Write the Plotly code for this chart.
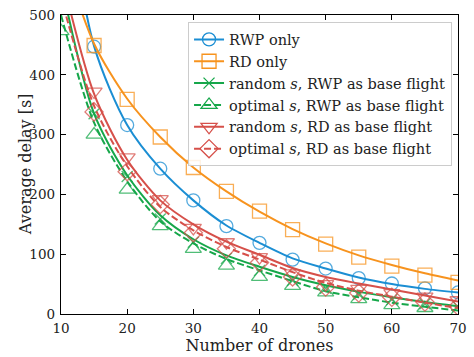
import plotly.graph_objects as go

# Number of drones
drones = [10, 15, 20, 25, 30, 35, 40, 45, 50, 55, 60, 65, 70]

# Analytical curves (average delay in seconds)
rwp_only_curve = [760, 448, 316, 243, 190, 148, 119, 93, 76, 61, 50, 42, 36]
rd_only_curve = [610, 452, 360, 296, 245, 205, 171, 142, 118, 98, 82, 68, 56]
rand_rwp_curve = [555, 335, 232, 165, 125, 98, 79, 62, 48, 37, 28, 20, 13]
opt_rwp_curve = [500, 320, 222, 155, 118, 92, 73, 55, 38, 28, 19, 12, 6]
rand_rd_curve = [570, 368, 258, 190, 150, 121, 99, 77, 62, 51, 41, 31, 21]
opt_rd_curve = [530, 348, 247, 179, 140, 112, 91, 70, 52, 39, 29, 19, 10]

# Simulated values (markers)
rwp_only_sim = [760, 447, 316, 243, 190, 147, 119, 91, 76, 60, 51, 43, 36]
rd_only_sim = [610, 449, 359, 296, 245, 205, 172, 141, 117, 95, 80, 65, 53]
rand_rwp_sim = [555, 335, 230, 159, 120, 93, 73, 56, 43, 33, 24, 17, 12]
opt_rwp_sim = [473, 300, 208, 147, 109, 81, 62, 47, 36, 25, 15, 10, 3]
rand_rd_sim = [600, 372, 262, 192, 144, 120, 95, 68, 50, 42, 35, 29, 23]
opt_rd_sim = [560, 338, 238, 183, 136, 109, 86, 62, 45, 35, 28, 20, 13]

labels = [
    "RWP only",
    "RD only",
    "random <i>s</i>, RWP as base flight",
    "optimal <i>s</i>, RWP as base flight",
    "random <i>s</i>, RD as base flight",
    "optimal <i>s</i>, RD as base flight",
]

BLUE = "#1b8ed3"
ORANGE = "#f7931e"
GREEN = "#16a74a"
RED = "#d6504a"

series = [
    (rwp_only_curve, rwp_only_sim, BLUE, "solid", "circle-open", 13),
    (rd_only_curve, rd_only_sim, ORANGE, "solid", "square-open", 14),
    (rand_rwp_curve, rand_rwp_sim, GREEN, "solid", "x-thin-open", 11),
    (opt_rwp_curve, opt_rwp_sim, GREEN, "7px,3px", "triangle-up-open", 14),
    (rand_rd_curve, rand_rd_sim, RED, "solid", "triangle-down-open", 14),
    (opt_rd_curve, opt_rd_sim, RED, "7px,3px", "diamond-open", 14),
]

fig = go.Figure()
for (curve, sim, color, dash, symbol, size), name in zip(series, labels):
    fig.add_trace(go.Scatter(
        x=drones, y=curve, mode="lines", showlegend=False,
        line=dict(color=color, width=2, dash=dash, shape="spline", smoothing=0.8),
        hoverinfo="skip",
    ))
    fig.add_trace(go.Scatter(
        x=drones, y=sim, mode="markers", showlegend=False,
        marker=dict(symbol=symbol, size=size, color=color, opacity=0.75,
                    line=dict(width=1.3, color=color)),
    ))
    # legend entry combining line style and marker
    fig.add_trace(go.Scatter(
        x=[None], y=[None], mode="lines+markers", name=name,
        line=dict(color=color, width=2, dash=dash),
        marker=dict(symbol=symbol, size=size, color=color,
                    line=dict(width=1.3, color=color)),
    ))

SERIF = "DejaVu Serif"
axis_common = dict(
    showline=True, linecolor="black", linewidth=1.3, mirror="allticks",
    ticks="inside", ticklen=5, tickwidth=1, tickcolor="black",
    showgrid=False, zeroline=False, ticklabeloverflow="allow",
    tickfont=dict(family=SERIF, size=13.5, color="#222"),
)

fig.update_layout(
    width=474, height=357,
    margin=dict(l=61, r=7, t=12, b=43),
    paper_bgcolor="white", plot_bgcolor="white",
    font=dict(family=SERIF, color="#222"),
    xaxis=dict(range=[10, 70], tickvals=[10, 20, 30, 40, 50, 60, 70],
               ticklabelstandoff=2,
               title=dict(text="Number of drones", font=dict(family=SERIF, size=16), standoff=2),
               **axis_common),
    yaxis=dict(range=[0, 500], tickvals=[0, 100, 200, 300, 400, 500],
               ticklabelstandoff=2,
               **axis_common),
    annotations=[dict(
        text="Average delay [s]", textangle=-90, showarrow=False,
        xref="paper", yref="paper", x=-0.089, y=0.5,
        xanchor="center", yanchor="middle",
        font=dict(family=SERIF, size=16, color="#222"),
    )],
    legend=dict(
        x=0.32, y=0.975, xanchor="left", yanchor="top",
        bgcolor="rgba(255,255,255,0.85)", bordercolor="#cccccc", borderwidth=1,
        font=dict(family=SERIF, size=14.5, color="#222"),
        tracegroupgap=0,
    ),
)

fig.write_html("out.html")
